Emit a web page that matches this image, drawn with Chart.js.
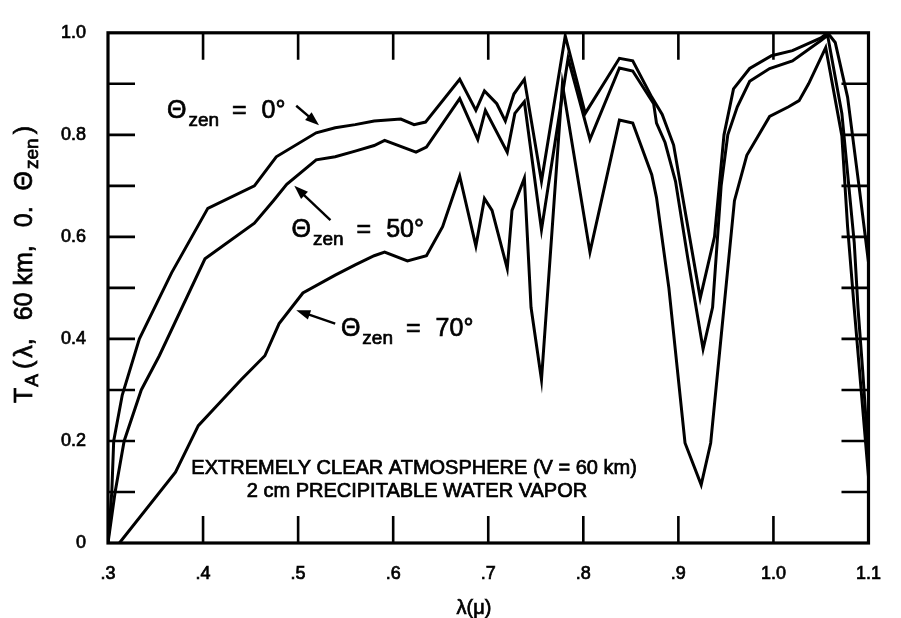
<!DOCTYPE html>
<html>
<head>
    <script src="https://cdn.jsdelivr.net/npm/chart.js@4/dist/chart.umd.min.js"></script>
    <style>
        body { margin: 0; background: #fff; }
        #wrap { width: 901px; height: 618px; }
    </style>
</head>
<body>
<div id="wrap"><canvas id="myChart"></canvas></div>

<script type="text/javascript">
    // wavelength (micron) and transmittance for each zenith angle
    const lam0 = [0.300, 0.304, 0.306, 0.315, 0.333, 0.367, 0.405, 0.454, 0.477, 0.519, 0.539, 0.560, 0.580, 0.608, 0.622, 0.634,
        0.670, 0.687, 0.696, 0.709, 0.718, 0.727, 0.738, 0.756, 0.781, 0.802, 0.838, 0.852, 0.872, 0.883, 0.895,
        0.923, 0.938, 0.948, 0.958, 0.975, 0.998, 1.020, 1.050, 1.057, 1.065, 1.078, 1.090, 1.100];
    const t0 = [0.00, 0.10, 0.20, 0.29, 0.40, 0.53, 0.656, 0.70, 0.757, 0.804, 0.814, 0.82, 0.827, 0.831, 0.82, 0.825,
        0.909, 0.848, 0.886, 0.861, 0.827, 0.880, 0.909, 0.709, 0.994, 0.842, 0.950, 0.945, 0.874, 0.84, 0.78,
        0.48, 0.60, 0.80, 0.89, 0.93, 0.955, 0.965, 0.99, 1.00, 0.981, 0.874, 0.70, 0.55];

    const lam50 = [0.300, 0.3075, 0.317, 0.335, 0.354, 0.402, 0.454, 0.474, 0.488, 0.519, 0.539, 0.560, 0.580, 0.591, 0.624,
        0.635, 0.670, 0.689, 0.697, 0.720, 0.728, 0.738, 0.756, 0.784, 0.807, 0.838, 0.852, 0.874, 0.877, 0.886,
        0.897, 0.910, 0.926, 0.936, 0.945, 0.952, 0.962, 0.975, 0.996, 1.020, 1.050, 1.057, 1.072, 1.085, 1.089,
        1.094, 1.100];
    const t50 = [0.00, 0.10, 0.20, 0.30, 0.367, 0.557, 0.627, 0.671, 0.703, 0.751, 0.757, 0.768, 0.779, 0.789, 0.766,
        0.776, 0.871, 0.791, 0.848, 0.766, 0.842, 0.865, 0.614, 0.950, 0.791, 0.931, 0.925, 0.861, 0.823, 0.785,
        0.709, 0.557, 0.38, 0.462, 0.70, 0.80, 0.855, 0.905, 0.93, 0.945, 0.985, 0.995, 0.842, 0.589, 0.46,
        0.335, 0.17];

    const lam70 = [0.312, 0.371, 0.395, 0.415, 0.440, 0.465, 0.480, 0.505, 0.539, 0.560, 0.580, 0.591, 0.615, 0.635, 0.652,
        0.670, 0.687, 0.696, 0.704, 0.720, 0.725, 0.738, 0.745, 0.756, 0.778, 0.807, 0.838, 0.852, 0.872, 0.877,
        0.890, 0.907, 0.924, 0.934, 0.948, 0.959, 0.972, 0.996, 1.016, 1.027, 1.037, 1.055, 1.072, 1.078, 1.085,
        1.100];
    const t70 = [0.00, 0.139, 0.23, 0.27, 0.32, 0.367, 0.43, 0.49, 0.525, 0.545, 0.563, 0.570, 0.553, 0.563, 0.62,
        0.719, 0.582, 0.675, 0.652, 0.538, 0.652, 0.715, 0.462, 0.32, 0.899, 0.57, 0.829, 0.823, 0.722, 0.677,
        0.50, 0.196, 0.114, 0.196, 0.462, 0.671, 0.76, 0.836, 0.855, 0.867, 0.90, 0.971, 0.798, 0.62, 0.46,
        0.13];

    const xTickValues = [0.3, 0.4, 0.5, 0.6, 0.7, 0.8, 0.9, 1.0, 1.1];
    const xTickLabels = ['.3', '.4', '.5', '.6', '.7', '.8', '.9', '1.0', '1.1'];
    const yTickValues = [0, 0.1, 0.2, 0.3, 0.4, 0.5, 0.6, 0.7, 0.8, 0.9, 1.0];
    const yTickLabels = ['0', '', '0.2', '', '0.4', '', '0.6', '', '0.8', '', '1.0'];

    const FONT = "'Liberation Sans', Arial, sans-serif";
    const INK = '#000';
    const TEXT_STROKE = 0.7;   // thickens the glyphs a little, like a photocopy
    Chart.defaults.font.family = FONT;
    Chart.defaults.color = INK;

    function toPoints(xs, ys) {
        return xs.map((x, i) => ({ x: x, y: ys[i] }));
    }

    function curve(xs, ys) {
        return {
            data: toPoints(xs, ys),
            borderColor: INK,
            borderWidth: 3,
            pointRadius: 0,
            tension: 0,
            fill: false
        };
    }

    function inkText(ctx, s, x, y) {
        ctx.lineWidth = TEXT_STROKE;
        ctx.strokeText(s, x, y);
        ctx.fillText(s, x, y);
    }

    // draws a run of [text, isSubscript, gapAfter] pieces starting at x, baseline y
    function drawRun(ctx, parts, x, y, size, subSize, subDrop) {
        parts.forEach(p => {
            const sub = p[1];
            ctx.font = (sub ? subSize : size) + 'px ' + FONT;
            inkText(ctx, p[0], x, sub ? y + subDrop : y);
            x += ctx.measureText(p[0]).width + (p[2] || 0);
        });
    }

    function arrow(ctx, x1, y1, x2, y2) {
        const a = Math.atan2(y2 - y1, x2 - x1);
        const len = 14, half = 5;
        ctx.beginPath();
        ctx.moveTo(x1, y1);
        ctx.lineTo(x2 - Math.cos(a) * len * 0.8, y2 - Math.sin(a) * len * 0.8);
        ctx.lineWidth = 2.4;
        ctx.stroke();
        ctx.beginPath();
        ctx.moveTo(x2, y2);
        ctx.lineTo(x2 - Math.cos(a) * len - Math.sin(a) * half, y2 - Math.sin(a) * len + Math.cos(a) * half);
        ctx.lineTo(x2 - Math.cos(a) * len + Math.sin(a) * half, y2 - Math.sin(a) * len - Math.cos(a) * half);
        ctx.closePath();
        ctx.fill();
    }

    const decor = {
        id: 'decor',
        afterDraw(chart) {
            const ctx = chart.ctx;
            const a = chart.chartArea;
            const xs = chart.scales.x, ys = chart.scales.y;
            const px = v => xs.getPixelForValue(v);
            const py = v => ys.getPixelForValue(v);
            const tick = 27;

            ctx.save();
            ctx.strokeStyle = INK;
            ctx.fillStyle = INK;

            // frame
            ctx.lineWidth = 3.2;
            ctx.strokeRect(a.left, a.top, a.right - a.left, a.bottom - a.top);

            // inward tick marks on all four sides
            ctx.lineWidth = 2.6;
            ctx.beginPath();
            xTickValues.slice(1, -1).forEach(v => {
                const x = px(v);
                ctx.moveTo(x, a.bottom); ctx.lineTo(x, a.bottom - tick);
                ctx.moveTo(x, a.top); ctx.lineTo(x, a.top + tick);
            });
            yTickValues.slice(1, -1).forEach(v => {
                const y = py(v);
                ctx.moveTo(a.left, y); ctx.lineTo(a.left + tick, y);
                ctx.moveTo(a.right, y); ctx.lineTo(a.right - tick, y);
            });
            ctx.stroke();

            ctx.textAlign = 'left';
            ctx.textBaseline = 'alphabetic';

            // y axis title, read bottom to top
            ctx.save();
            ctx.translate(32, 403);
            ctx.rotate(-Math.PI / 2);
            drawRun(ctx, [['T', false, 1], ['A', true, 5], ['(', false, 3], ['λ,', false, 18], ['60 km,', false, 18],
                ['0.', false, 16], ['Θ', false, 2], ['zen', true, 4], [')', false]],
                0, 0, 25, 19, 6);
            ctx.restore();

            // x axis title
            ctx.font = '20px ' + FONT;
            ctx.textAlign = 'center';
            inkText(ctx, 'λ(μ)', px(0.685), 614);

            // atmosphere note
            ctx.font = '20px ' + FONT;
            inkText(ctx, 'EXTREMELY CLEAR ATMOSPHERE (V = 60 km)', px(0.622), py(0.135));
            inkText(ctx, '2 cm PRECIPITABLE WATER VAPOR', px(0.625), py(0.091));

            // zenith angle labels with arrows
            ctx.textAlign = 'left';
            const labels = [
                { text: '0°', at: [0.362, 0.833], from: [0.498, 0.857], to: [0.522, 0.819] },
                { text: '50°', at: [0.493, 0.599], from: [0.534, 0.633], to: [0.496, 0.700] },
                { text: '70°', at: [0.545, 0.405], from: [0.539, 0.430], to: [0.498, 0.456] }
            ];
            labels.forEach(l => {
                drawRun(ctx, [['Θ', false, 2], ['zen', true, 13], ['=', false, 15], [l.text, false]],
                    px(l.at[0]), py(l.at[1]), 25, 19, 8);
                arrow(ctx, px(l.from[0]), py(l.from[1]), px(l.to[0]), py(l.to[1]));
            });

            ctx.restore();
        }
    };

    const tickFont = { size: 18 };

    const config = {
        type: 'line',
        data: {
            datasets: [curve(lam0, t0), curve(lam50, t50), curve(lam70, t70)]
        },
        options: {
            responsive: true,
            maintainAspectRatio: false,
            animation: false,
            devicePixelRatio: 1,
            layout: { padding: { top: 17, right: 17, left: 0, bottom: 0 } },
            plugins: {
                legend: { display: false },
                tooltip: { enabled: false }
            },
            scales: {
                x: {
                    type: 'linear',
                    min: 0.3,
                    max: 1.1,
                    afterBuildTicks: s => { s.ticks = xTickValues.map(v => ({ value: v })); },
                    afterFit: s => { s.height = 75; },
                    ticks: {
                        autoSkip: false,
                        maxRotation: 0,
                        padding: 20,
                        font: tickFont,
                        textStrokeColor: INK,
                        textStrokeWidth: TEXT_STROKE,
                        callback: (v, i) => xTickLabels[i]
                    },
                    grid: { display: false, drawTicks: false },
                    border: { display: false }
                },
                y: {
                    min: 0,
                    max: 1.0,
                    afterBuildTicks: s => { s.ticks = yTickValues.map(v => ({ value: v })); },
                    afterFit: s => { s.width = 108; },
                    ticks: {
                        autoSkip: false,
                        padding: 22,
                        font: tickFont,
                        textStrokeColor: INK,
                        textStrokeWidth: TEXT_STROKE,
                        callback: (v, i) => yTickLabels[i]
                    },
                    grid: { display: false, drawTicks: false },
                    border: { display: false }
                }
            }
        },
        plugins: [decor]
    };

    const chart = new Chart(document.getElementById('myChart'), config);
</script>
</body>
</html>
